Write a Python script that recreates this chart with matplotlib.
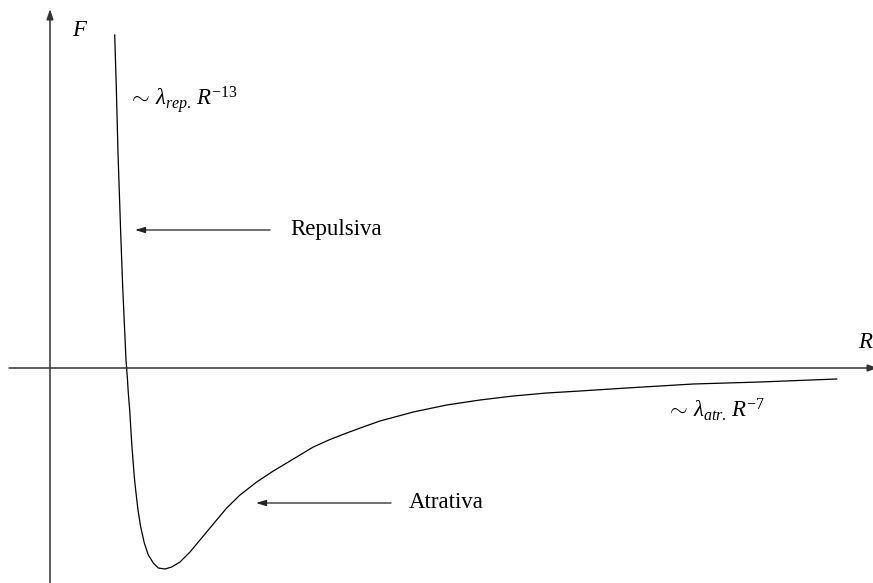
import numpy as np
import matplotlib.pyplot as plt

plt.rcParams['mathtext.fontset'] = 'custom'
plt.rcParams['mathtext.rm'] = 'Liberation Serif'
plt.rcParams['mathtext.it'] = 'Liberation Serif:italic'
plt.rcParams['font.family'] = ['Liberation Serif', 'DejaVu Serif']

# curve (arbitrary units: R right, F up)
R = [0.647, 0.663, 0.68, 0.707, 0.727, 0.76, 0.773, 0.783, 0.797, 0.807,
     0.817, 0.83, 0.843, 0.86, 0.88, 0.907, 0.943, 0.983, 1.033, 1.083,
     1.15, 1.217, 1.30, 1.40, 1.50, 1.633, 1.767, 1.90, 2.067, 2.233,
     2.367, 2.50, 2.633, 2.80, 2.967, 3.13, 3.30, 3.633, 3.967, 4.30, 4.633, 4.967,
     5.30, 5.767, 6.433, 7.10, 7.867]
F = [3.33, 2.81, 2.15, 1.35, 0.81, 0.08, -0.09, -0.25, -0.42, -0.59,
     -0.75, -0.92, -1.09, -1.25, -1.42, -1.59, -1.75, -1.87, -1.95, -2.00,
     -2.01, -1.99, -1.94, -1.84, -1.72, -1.56, -1.40, -1.27, -1.14, -1.03,
     -0.95, -0.87, -0.79, -0.715, -0.65, -0.59, -0.53, -0.44, -0.37, -0.32, -0.28, -0.25,
     -0.23, -0.20, -0.16, -0.14, -0.11]

fig = plt.figure(figsize=(8.73, 5.83), dpi=100)
ax = fig.add_axes([0, 0, 1, 1])
ax.set_xlim(-0.5, 8.23)
ax.set_ylim(-2.15, 3.68)
ax.axis('off')

axis_kw = dict(arrowstyle='-|>,head_length=0.6,head_width=0.2', color='#333333', lw=1.1,
               shrinkA=0, shrinkB=0)
ax.annotate('', xy=(0, 3.59), xytext=(0, -2.2), arrowprops=axis_kw, annotation_clip=False)
ax.annotate('', xy=(8.28, 0), xytext=(-0.41, 0), arrowprops=axis_kw, annotation_clip=False)

ax.plot(R, F, color='black', lw=0.9, solid_joinstyle='round')

arr_kw = dict(arrowstyle='-|>,head_length=0.6,head_width=0.18', color='#222222', lw=0.9,
              shrinkA=0, shrinkB=0)
ax.annotate('', xy=(0.85, 1.38), xytext=(2.2, 1.38), arrowprops=arr_kw)
ax.annotate('', xy=(2.06, -1.35), xytext=(3.41, -1.35), arrowprops=arr_kw)

fs = 16.5
ax.text(2.4, 1.38, 'Repulsiva', fontsize=fs, va='center', ha='left')
ax.text(3.59, -1.35, 'Atrativa', fontsize=fs, va='center', ha='left')
ax.text(0.22, 3.38, '$F$', fontsize=fs, va='center', ha='left')
ax.text(8.08, 0.26, '$R$', fontsize=fs, va='center', ha='left')
ax.text(0.78, 2.68, r'$\sim\,\lambda_{rep.}\,R^{-13}$', fontsize=fs, va='center', ha='left')
ax.text(6.16, -0.42, r'$\sim\,\lambda_{atr.}\,R^{-7}$', fontsize=fs, va='center', ha='left')

fig.savefig('out.png', dpi=100)
